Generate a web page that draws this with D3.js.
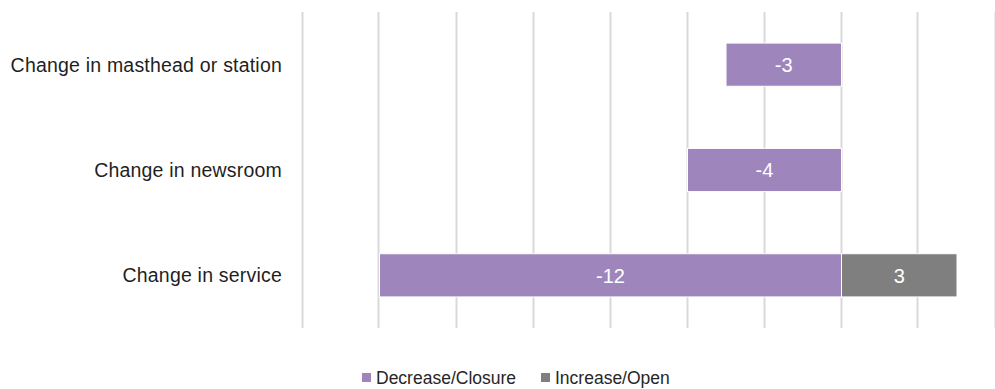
<!DOCTYPE html>
<html>
<head>
<meta charset="utf-8">
<script src="https://cdn.jsdelivr.net/npm/d3@7"></script>
<style>
  html, body { margin: 0; padding: 0; background: #fff; }
  svg { display: block; }
</style>
</head>
<body>
<svg id="chart" width="995" height="389"></svg>
<script>
// Categories (top to bottom) and the two stacked series
const categories = ["Change in masthead or station", "Change in newsroom", "Change in service"];
const decrease = [-3, -4, -12];
const increase = [0, 0, 3];
const seriesNames = ["Decrease/Closure", "Increase/Open"];
const xTicks = [-14, -12, -10, -8, -6, -4, -2, 0, 2, 4];

const colors = ["#9e86bd", "#7f7f7f"];
const font = "'Liberation Sans', Arial, sans-serif";

const svg = d3.select("#chart");
const plot = { left: 302.5, right: 995.5, top: 12, bottom: 328 };

const x = d3.scaleLinear().domain([-14, 4]).range([plot.left, plot.right]);
const y = d3.scaleBand().domain(categories).range([plot.top, plot.bottom]).paddingInner(0.59).paddingOuter(0.295);

// vertical gridlines
svg.append("g")
  .selectAll("line")
  .data(xTicks)
  .join("line")
  .attr("x1", d => Math.round(x(d)) - 0.5)
  .attr("x2", d => Math.round(x(d)) - 0.5)
  .attr("y1", plot.top)
  .attr("y2", plot.bottom)
  .attr("stroke", "#d9d9d9")
  .attr("stroke-width", 2);

// bars with value labels
const rows = categories.map((c, i) => ({ c, dec: decrease[i], inc: increase[i] }));
const barG = svg.append("g");
rows.forEach(r => {
  [{ v: r.dec, k: 0 }, { v: r.inc, k: 1 }].forEach(s => {
    if (!s.v) return;
    const x0 = x(Math.min(0, s.v)), x1 = x(Math.max(0, s.v));
    barG.append("rect")
      .attr("x", x0)
      .attr("y", y(r.c))
      .attr("width", x1 - x0)
      .attr("height", y.bandwidth())
      .attr("fill", colors[s.k])
      .attr("stroke", "#fff")
      .attr("stroke-width", 1);
    barG.append("text")
      .attr("x", (x0 + x1) / 2)
      .attr("y", y(r.c) + y.bandwidth() / 2)
      .attr("dy", "0.36em")
      .attr("text-anchor", "middle")
      .attr("fill", "#fff")
      .attr("font-family", font)
      .attr("font-size", 20)
      .text(s.v);
  });
});

// category labels
svg.append("g")
  .selectAll("text")
  .data(categories)
  .join("text")
  .attr("x", 282)
  .attr("y", d => y(d) + y.bandwidth() / 2)
  .attr("dy", "0.36em")
  .attr("text-anchor", "end")
  .attr("fill", "#1f1f1f")
  .attr("font-family", font)
  .attr("font-size", 19.5)
  .attr("letter-spacing", 0.2)
  .text(d => d);

// legend
const legend = svg.append("g");
const legendItems = [{ name: seriesNames[0], x: 362 }, { name: seriesNames[1], x: 541 }];
legendItems.forEach((it, i) => {
  legend.append("rect")
    .attr("x", it.x).attr("y", 373).attr("width", 9).attr("height", 9)
    .attr("fill", colors[i]);
  legend.append("text")
    .attr("x", it.x + 14).attr("y", 378)
    .attr("dy", "0.36em")
    .attr("fill", "#262626")
    .attr("font-family", font)
    .attr("font-size", 17.5)
    .text(it.name);
});
</script>
</body>
</html>
